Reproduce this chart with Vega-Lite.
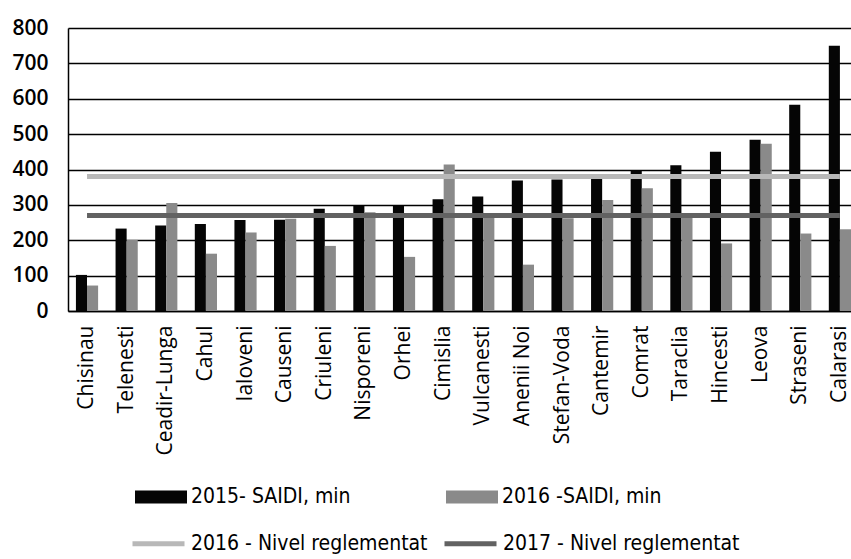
{
  "$schema": "https://vega.github.io/schema/vega-lite/v6.json",
  "width": 783,
  "height": 283,
  "autosize": {"type": "none"},
  "padding": {"left": 68, "top": 28, "right": 0, "bottom": 248},
  "background": "white",
  "config": {
    "view": {"stroke": null},
    "font": "Open Sans"
  },
  "data": {
    "values": [
      {"district": "Chisinau", "series": "2015- SAIDI, min", "value": 102},
      {"district": "Chisinau", "series": "2016 -SAIDI, min", "value": 72},
      {"district": "Telenesti", "series": "2015- SAIDI, min", "value": 233},
      {"district": "Telenesti", "series": "2016 -SAIDI, min", "value": 201},
      {"district": "Ceadir-Lunga", "series": "2015- SAIDI, min", "value": 242},
      {"district": "Ceadir-Lunga", "series": "2016 -SAIDI, min", "value": 305},
      {"district": "Cahul", "series": "2015- SAIDI, min", "value": 246},
      {"district": "Cahul", "series": "2016 -SAIDI, min", "value": 162},
      {"district": "Ialoveni", "series": "2015- SAIDI, min", "value": 257},
      {"district": "Ialoveni", "series": "2016 -SAIDI, min", "value": 222},
      {"district": "Causeni", "series": "2015- SAIDI, min", "value": 258},
      {"district": "Causeni", "series": "2016 -SAIDI, min", "value": 261},
      {"district": "Criuleni", "series": "2015- SAIDI, min", "value": 289},
      {"district": "Criuleni", "series": "2016 -SAIDI, min", "value": 184},
      {"district": "Nisporeni", "series": "2015- SAIDI, min", "value": 298},
      {"district": "Nisporeni", "series": "2016 -SAIDI, min", "value": 279},
      {"district": "Orhei", "series": "2015- SAIDI, min", "value": 298},
      {"district": "Orhei", "series": "2016 -SAIDI, min", "value": 153},
      {"district": "Cimislia", "series": "2015- SAIDI, min", "value": 316},
      {"district": "Cimislia", "series": "2016 -SAIDI, min", "value": 414},
      {"district": "Vulcanesti", "series": "2015- SAIDI, min", "value": 324},
      {"district": "Vulcanesti", "series": "2016 -SAIDI, min", "value": 270},
      {"district": "Anenii Noi", "series": "2015- SAIDI, min", "value": 369},
      {"district": "Anenii Noi", "series": "2016 -SAIDI, min", "value": 131},
      {"district": "Stefan-Voda", "series": "2015- SAIDI, min", "value": 372},
      {"district": "Stefan-Voda", "series": "2016 -SAIDI, min", "value": 262},
      {"district": "Cantemir", "series": "2015- SAIDI, min", "value": 373},
      {"district": "Cantemir", "series": "2016 -SAIDI, min", "value": 314},
      {"district": "Comrat", "series": "2015- SAIDI, min", "value": 398},
      {"district": "Comrat", "series": "2016 -SAIDI, min", "value": 347},
      {"district": "Taraclia", "series": "2015- SAIDI, min", "value": 412},
      {"district": "Taraclia", "series": "2016 -SAIDI, min", "value": 265},
      {"district": "Hincesti", "series": "2015- SAIDI, min", "value": 450},
      {"district": "Hincesti", "series": "2016 -SAIDI, min", "value": 191},
      {"district": "Leova", "series": "2015- SAIDI, min", "value": 484},
      {"district": "Leova", "series": "2016 -SAIDI, min", "value": 473},
      {"district": "Straseni", "series": "2015- SAIDI, min", "value": 583},
      {"district": "Straseni", "series": "2016 -SAIDI, min", "value": 219},
      {"district": "Calarasi", "series": "2015- SAIDI, min", "value": 750},
      {"district": "Calarasi", "series": "2016 -SAIDI, min", "value": 231},
      {"district": "Chisinau", "series": "2016 - Nivel reglementat", "value": 380},
      {"district": "Telenesti", "series": "2016 - Nivel reglementat", "value": 380},
      {"district": "Ceadir-Lunga", "series": "2016 - Nivel reglementat", "value": 380},
      {"district": "Cahul", "series": "2016 - Nivel reglementat", "value": 380},
      {"district": "Ialoveni", "series": "2016 - Nivel reglementat", "value": 380},
      {"district": "Causeni", "series": "2016 - Nivel reglementat", "value": 380},
      {"district": "Criuleni", "series": "2016 - Nivel reglementat", "value": 380},
      {"district": "Nisporeni", "series": "2016 - Nivel reglementat", "value": 380},
      {"district": "Orhei", "series": "2016 - Nivel reglementat", "value": 380},
      {"district": "Cimislia", "series": "2016 - Nivel reglementat", "value": 380},
      {"district": "Vulcanesti", "series": "2016 - Nivel reglementat", "value": 380},
      {"district": "Anenii Noi", "series": "2016 - Nivel reglementat", "value": 380},
      {"district": "Stefan-Voda", "series": "2016 - Nivel reglementat", "value": 380},
      {"district": "Cantemir", "series": "2016 - Nivel reglementat", "value": 380},
      {"district": "Comrat", "series": "2016 - Nivel reglementat", "value": 380},
      {"district": "Taraclia", "series": "2016 - Nivel reglementat", "value": 380},
      {"district": "Hincesti", "series": "2016 - Nivel reglementat", "value": 380},
      {"district": "Leova", "series": "2016 - Nivel reglementat", "value": 380},
      {"district": "Straseni", "series": "2016 - Nivel reglementat", "value": 380},
      {"district": "Calarasi", "series": "2016 - Nivel reglementat", "value": 380},
      {"district": "Chisinau", "series": "2017 - Nivel reglementat", "value": 270},
      {"district": "Telenesti", "series": "2017 - Nivel reglementat", "value": 270},
      {"district": "Ceadir-Lunga", "series": "2017 - Nivel reglementat", "value": 270},
      {"district": "Cahul", "series": "2017 - Nivel reglementat", "value": 270},
      {"district": "Ialoveni", "series": "2017 - Nivel reglementat", "value": 270},
      {"district": "Causeni", "series": "2017 - Nivel reglementat", "value": 270},
      {"district": "Criuleni", "series": "2017 - Nivel reglementat", "value": 270},
      {"district": "Nisporeni", "series": "2017 - Nivel reglementat", "value": 270},
      {"district": "Orhei", "series": "2017 - Nivel reglementat", "value": 270},
      {"district": "Cimislia", "series": "2017 - Nivel reglementat", "value": 270},
      {"district": "Vulcanesti", "series": "2017 - Nivel reglementat", "value": 270},
      {"district": "Anenii Noi", "series": "2017 - Nivel reglementat", "value": 270},
      {"district": "Stefan-Voda", "series": "2017 - Nivel reglementat", "value": 270},
      {"district": "Cantemir", "series": "2017 - Nivel reglementat", "value": 270},
      {"district": "Comrat", "series": "2017 - Nivel reglementat", "value": 270},
      {"district": "Taraclia", "series": "2017 - Nivel reglementat", "value": 270},
      {"district": "Hincesti", "series": "2017 - Nivel reglementat", "value": 270},
      {"district": "Leova", "series": "2017 - Nivel reglementat", "value": 270},
      {"district": "Straseni", "series": "2017 - Nivel reglementat", "value": 270},
      {"district": "Calarasi", "series": "2017 - Nivel reglementat", "value": 270}
    ]
  },
  "encoding": {
    "x": {
      "field": "district",
      "type": "nominal",
      "sort": null,
      "title": null,
      "scale": {"paddingInner": 0.44, "paddingOuter": 0.1, "align": 1},
      "axis": {
        "labelAngle": -90,
        "labelFont": "Open Sans",
        "labelFontSize": 21,
        "labelColor": "#000",
        "labelPadding": 14,
        "ticks": false,
        "domain": true,
        "domainColor": "#000",
        "domainWidth": 1.5
      }
    },
    "y": {
      "field": "value",
      "type": "quantitative",
      "title": null,
      "scale": {"domain": [0, 800], "nice": false},
      "axis": {
        "values": [0, 100, 200, 300, 400, 500, 600, 700, 800],
        "labelFont": "Open Sans",
        "labelFontSize": 21,
        "labelFontWeight": 600,
        "labelColor": "#000",
        "labelPadding": 20,
        "ticks": false,
        "domain": true,
        "domainColor": "#000",
        "domainWidth": 1.5,
        "grid": true,
        "gridColor": "#000",
        "gridWidth": 1.3
      }
    }
  },
  "layer": [
    {
      "transform": [{"filter": "indexof(datum.series, 'SAIDI') >= 0"}],
      "mark": {"type": "bar"},
      "encoding": {
        "xOffset": {"field": "series", "type": "nominal", "sort": null, "scale": {"paddingInner": 0, "paddingOuter": 0}},
        "fill": {
          "field": "series",
          "type": "nominal",
          "scale": {
            "domain": ["2015- SAIDI, min", "2016 -SAIDI, min"],
            "range": ["#050505", "#8a8a8a"]
          },
          "legend": {
            "title": null,
            "orient": "none",
            "direction": "horizontal",
            "legendX": 67,
            "legendY": 443,
            "columnPadding": 95,
            "padding": 0,
            "labelFont": "DejaVu Sans Condensed, Roboto Condensed, Roboto",
            "labelFontSize": 21,
            "labelColor": "#000",
            "labelOffset": 4,
            "labelLimit": 400,
            "symbolType": "M-1,-0.25H1V0.25H-1Z",
            "symbolSize": 2704,
            "symbolStrokeWidth": 0,
            "encode": {"symbols": {"update": {"fill": {"value": "#050505"}}}}
          }
        }
      }
    },
    {
      "transform": [{"filter": "indexof(datum.series, 'Nivel') >= 0"}],
      "mark": {"type": "line", "strokeWidth": 5},
      "encoding": {
        "stroke": {
          "field": "series",
          "type": "nominal",
          "scale": {
            "domain": ["2016 - Nivel reglementat", "2017 - Nivel reglementat"],
            "range": ["#b8b8b8", "#626262"]
          },
          "legend": {
            "title": null,
            "orient": "none",
            "direction": "horizontal",
            "legendX": 62,
            "legendY": 487,
            "columnPadding": 6,
            "padding": 0,
            "labelFont": "DejaVu Sans Condensed, Roboto Condensed, Roboto",
            "labelFontSize": 21,
            "labelColor": "#000",
            "labelOffset": 4,
            "labelLimit": 400,
            "symbolType": "stroke",
            "symbolSize": 2704,
            "symbolStrokeWidth": 5
          }
        }
      }
    }
  ]
}
